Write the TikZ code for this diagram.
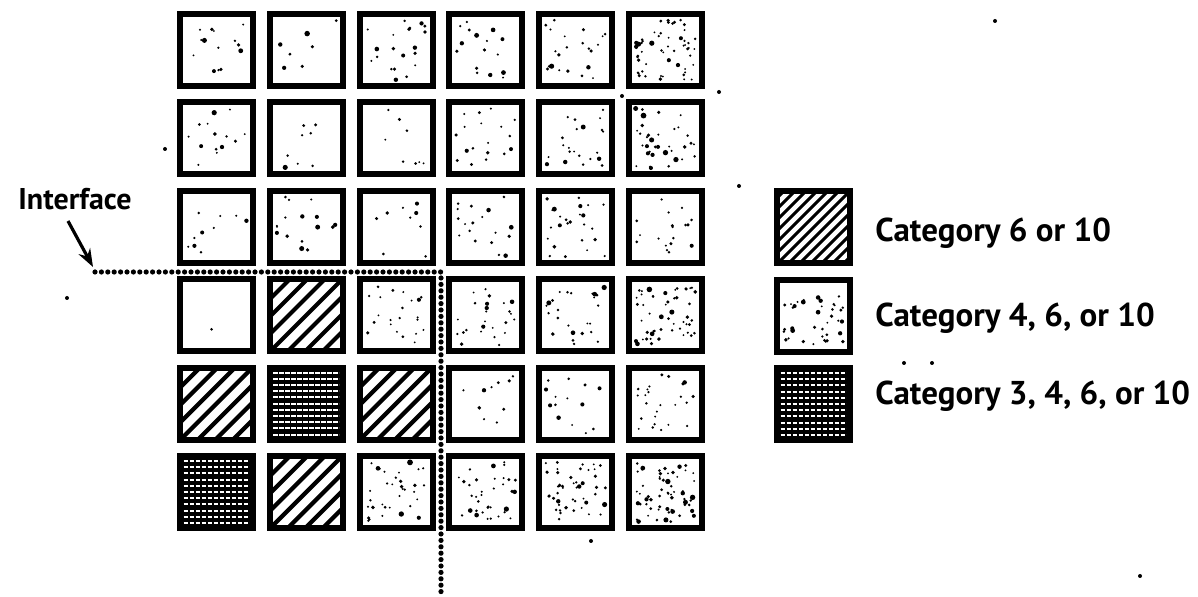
\documentclass[tikz,border=0pt]{standalone}
\usepackage{fontspec}
\setmainfont{PT Sans}
\usetikzlibrary{arrows.meta}
\tikzset{
  cell/.style={draw, line width=3pt, minimum width=36.5pt, minimum height=36pt, inner sep=0pt},
  lbl/.style={font=\fontsize{16.5pt}{19pt}\selectfont\bfseries, inner sep=0pt},
  iflbl/.style={font=\fontsize{15pt}{18pt}\selectfont\bfseries, inner sep=0pt},
  iface/.style={line width=2.6pt, line cap=round, dash pattern=on 0pt off 3.2pt},
  pointer/.style={line width=1.6pt, -{Stealth[length=9pt,width=6.5pt]}}
}
\newcommand\stipat[4]{% cx, cy, count, seed
  \pgfmathsetseed{#4}
  \foreach \k in {1,...,#3}{
    \pgfmathsetmacro\dx{(rnd-0.5)*60}
    \pgfmathsetmacro\dy{(rnd-0.5)*60}
    \pgfmathsetmacro\rr{1.0+2.0*rnd*rnd}
    \fill (#1+\dx,#2+\dy) circle[radius=\rr];
  }}
\newcommand\hatchat[4]{% cx, cy, period px, line width
  \begin{scope}
    \clip (#1-36.5,#2-36) rectangle (#1+36.5,#2+36);
    \foreach \k in {-8,...,8}{
      \draw[line width=#4] (#1+\k*#3-45,#2+45) -- (#1+\k*#3+45,#2-45);
    }
  \end{scope}}
\newcommand\gridat[2]{% cx, cy
  \fill (#1-36.5,#2-36) rectangle (#1+36.5,#2+36);
  \foreach \k in {0,...,10}{
    \draw[white, line width=1pt, dash pattern=on 2.3pt off 0.7pt]
      (#1-33,#2-31+\k*6.2) -- (#1+33,#2-31+\k*6.2);
  }}
\begin{document}
\begin{tikzpicture}[x=0.5pt,y=-0.5pt]
\useasboundingbox (0,0) rectangle (1198,597);
% stippled cells
\foreach \i/\j/\n in {1/1/14,1/2/7,1/3/20,1/4/18,1/5/22,1/6/55,
                      2/1/14,2/2/8,2/3/8,2/4/18,2/5/22,2/6/35,
                      3/1/10,3/2/16,3/3/9,3/4/18,3/5/25,3/6/18,
                      4/1/1,4/3/22,4/4/25,4/5/25,4/6/50,
                      5/4/10,5/5/14,5/6/25,
                      6/3/35,6/4/35,6/5/45,6/6/60}{
  \pgfmathsetmacro\cx{216.5+89.8*(\j-1)}
  \pgfmathsetmacro\cy{50+88.4*(\i-1)}
  \pgfmathtruncatemacro\sd{\i*10+\j+7}
  \stipat{\cx}{\cy}{\n}{\sd}
  \node[cell] (c\i\j) at (\cx,\cy) {};
}
% hatched cells
\foreach \i/\j in {4/2,5/1,5/3,6/2}{
  \pgfmathsetmacro\cx{216.5+89.8*(\j-1)}
  \pgfmathsetmacro\cy{50+88.4*(\i-1)}
  \hatchat{\cx}{\cy}{17.5}{2.1pt}
  \node[cell] (c\i\j) at (\cx,\cy) {};
}
% grid cells
\foreach \i/\j in {5/2,6/1}{
  \pgfmathsetmacro\cx{216.5+89.8*(\j-1)}
  \pgfmathsetmacro\cy{50+88.4*(\i-1)}
  \gridat{\cx}{\cy}
  \node[cell] (c\i\j) at (\cx,\cy) {};
}
% legend
\hatchat{813.5}{227.5}{11}{1.5pt}
\node[cell] (l1) at (813.5,227.5) {};
\stipat{813.5}{316}{40}{99}
\node[cell] (l2) at (813.5,316) {};
\gridat{813.5}{404}
\node[cell] (l3) at (813.5,404) {};
\node[lbl, anchor=base west] (t1) at (875,242) {Category 6 or 10};
\node[lbl, anchor=base west] (t2) at (875,327) {Category 4, 6, or 10};
\node[lbl, anchor=base west] (t3) at (875,405) {Category 3, 4, 6, or 10};
% interface
\node[iflbl, anchor=base east] (lab) at (132,210) {Interface};
\coordinate (ifs) at (95,272);
\coordinate (ifc) at (441,272);
\coordinate (ife) at (441,597);
\draw[iface] (ifs) -- (ifc) -- (ife);
\coordinate (a0) at (68,221);
\coordinate (a1) at (93,267);
\draw[pointer] (a0) -- (a1);
% stray specks
\foreach \p in {(995,21),(67,298),(165,149),(622,96),(719,92),(739,186),(591,541),(904,363),(932,363),(1140,576)}{
  \fill \p circle[radius=2];
}
\end{tikzpicture}
\end{document}
